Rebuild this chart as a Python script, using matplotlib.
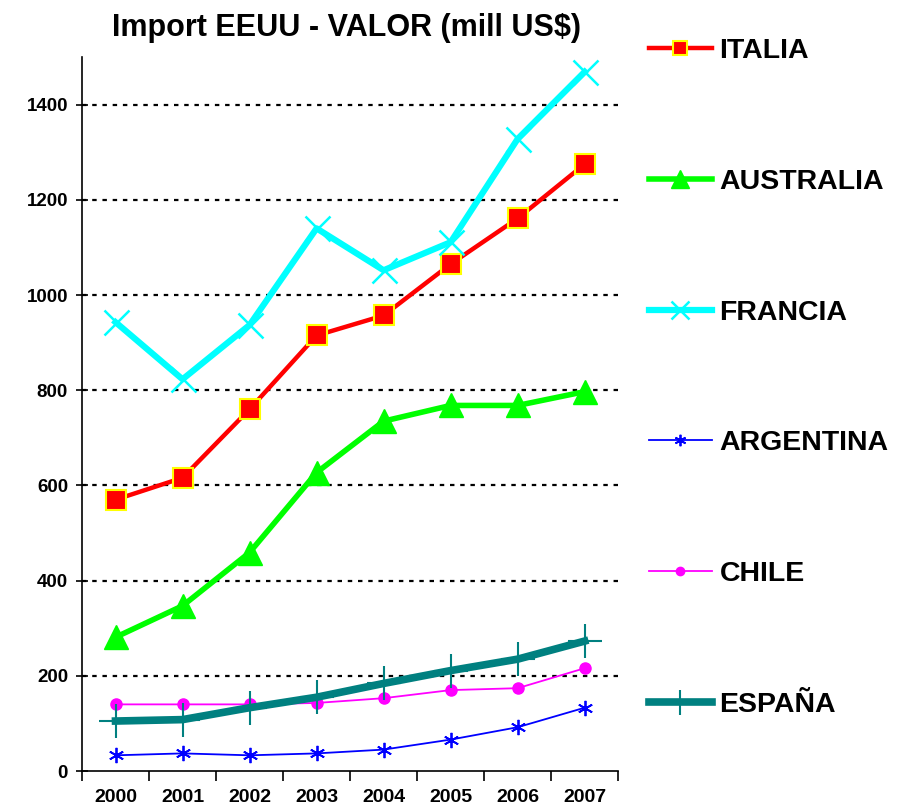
import matplotlib

matplotlib.use("Agg")
import matplotlib.pyplot as plt
import numpy as np

years = ["2000", "2001", "2002", "2003", "2004", "2005", "2006", "2007"]
italia = [570, 616, 760, 915, 957, 1065, 1161, 1275]
australia = [281, 347, 459, 627, 735, 768, 768, 797]
francia = [943, 823, 937, 1140, 1052, 1111, 1328, 1469]
argentina = [33, 37, 33, 37, 45, 66, 92, 133]
chile = [140, 140, 140, 143, 153, 170, 174, 216]
espana = [105, 108, 133, 155, 184, 211, 235, 273]
y_ticks = [0, 200, 400, 600, 800, 1000, 1200, 1400]

plt.rcParams["font.family"] = ["Liberation Sans", "DejaVu Sans"]
plt.rcParams["font.weight"] = "bold"

fig = plt.figure(figsize=(9.05, 8.11), dpi=100)
ax = fig.add_axes([0.0906, 0.0493, 0.5925, 0.8804])

x = np.arange(len(years))

ax.plot(x, italia, color="#FF0000", lw=3.2, marker="s", ms=14,
        mfc="#FF0000", mec="#FFFF00", mew=1.5, label="ITALIA", zorder=3)
ax.plot(x, australia, color="#00FF00", lw=4, marker="^", ms=17,
        mfc="#00FF00", mec="#00FF00", label="AUSTRALIA", zorder=3)
ax.plot(x, francia, color="#00FFFF", lw=4.5, marker="x", ms=18,
        mec="#00FFFF", mew=1.8, label="FRANCIA", zorder=3)
ax.plot(x, argentina, color="#0000FF", lw=1.3, marker=(6, 2, 0), ms=11,
        mec="#0000FF", mew=1.3, label="ARGENTINA", zorder=3)
ax.plot(x, chile, color="#FF00FF", lw=1.3, marker="o", ms=8,
        mfc="#FF00FF", mec="#FF00FF", label="CHILE", zorder=3)
ax.plot(x, espana, color="#008080", lw=5.5, marker="+", ms=24,
        mec="#008080", mew=1.5, label="ESPAÑA", zorder=3)

ax.set_xlim(-0.5, len(years) - 0.5)
ax.set_ylim(0, 1500)

ax.set_yticks(y_ticks)
ax.set_yticklabels([str(v) for v in y_ticks], fontsize=13.5, fontweight="bold")
ax.tick_params(axis="y", direction="inout", length=8, width=1.2, pad=6)

ax.set_xticks(x)
ax.set_xticklabels(years, fontsize=14, fontweight="bold")
ax.set_xticks(np.arange(-0.5, len(years)), minor=True)
ax.tick_params(axis="x", which="major", length=0, pad=13)
ax.tick_params(axis="x", which="minor", direction="out", length=7, width=1.2)

for v in y_ticks[1:]:
    ax.axhline(v, color="black", lw=1.6, ls=(0, (2, 2.6)), zorder=1)

for side in ("top", "right"):
    ax.spines[side].set_visible(False)
for side in ("left", "bottom"):
    ax.spines[side].set_linewidth(1.2)

ax.set_title("Import EEUU - VALOR (mill US$)", fontsize=22, fontweight="bold",
             pad=15, x=0.493)

fig.legend(loc="center left", bbox_to_anchor=(0.717, 0.534),
           bbox_transform=fig.transFigure, frameon=False, borderpad=0,
           borderaxespad=0, labelspacing=3.68, handlelength=2.2,
           handletextpad=0.28, markerscale=0.75,
           prop={"weight": "bold", "size": 20.5})

fig.savefig("out.png", dpi=100)
